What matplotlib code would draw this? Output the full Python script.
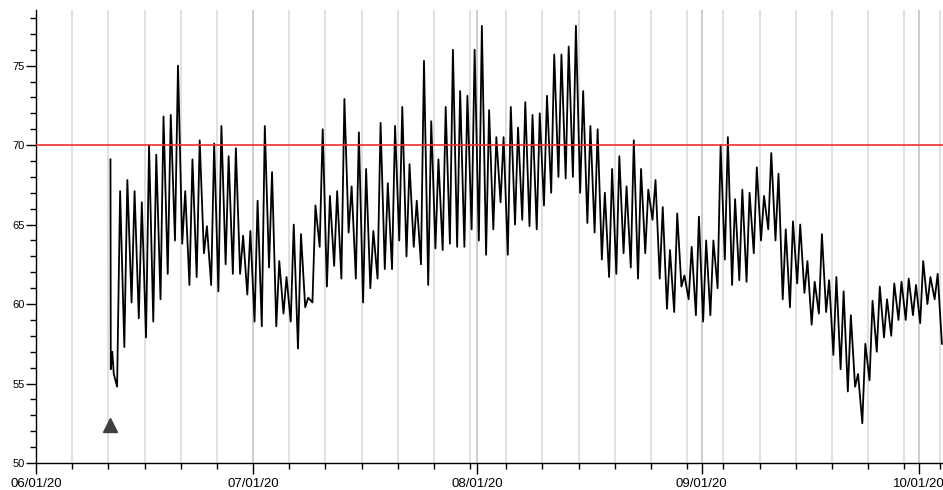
import pandas as pd
import matplotlib
matplotlib.use("Agg")
from matplotlib import pyplot as plt
import matplotlib.dates as mdates
from matplotlib.ticker import MultipleLocator

# first readings after the logger came online on 06/11
start_times = ["2020-06-11 07:00", "2020-06-11 08:00", "2020-06-11 13:00", "2020-06-11 18:00"]
start_temps = [69.1, 55.9, 57.0, 55.6]

# early-morning lows, 06/12 through 10/04
daily_lows = [
    54.8, 57.3, 60.1, 59.1, 57.9, 58.9, 60.3, 61.9, 64.0, 63.8,
    61.2, 61.7, 63.2, 61.2, 60.8, 62.5, 61.9, 61.9, 60.6, 58.9,
    58.6, 62.3, 58.6, 59.4, 58.9, 57.2, 59.8, 60.1, 63.6, 61.1,
    62.4, 61.6, 64.5, 61.6, 60.1, 61.0, 61.6, 62.2, 62.2, 64.0,
    63.0, 63.6, 62.5, 61.2, 63.5, 63.4, 63.8, 63.6, 63.6, 64.7,
    64.0, 63.1, 64.7, 66.4, 63.1, 65.0, 65.3, 64.9, 64.7, 66.2,
    67.0, 68.0, 67.9, 68.0, 67.0, 65.1, 64.5, 62.8, 61.7, 61.9,
    63.2, 62.3, 61.6, 63.2, 65.3, 61.6, 59.7, 59.5, 61.1, 60.3,
    59.3, 58.9, 59.3, 61.0, 62.8, 61.2, 61.5, 61.4, 63.2, 64.0,
    64.7, 64.0, 60.3, 59.8, 61.3, 60.7, 58.7, 59.4, 59.5, 56.8,
    55.9, 54.5, 54.8, 52.5, 55.2, 57.0, 57.9, 58.0, 59.0, 59.0,
    59.3, 58.8, 60.0, 60.3, 57.5,
]

# afternoon highs, 06/12 through 10/03
daily_highs = [
    67.1, 67.8, 67.1, 66.4, 70.0, 69.4, 71.8, 71.9, 75.0, 67.1,
    69.1, 70.3, 64.9, 70.1, 71.2, 69.3, 69.8, 64.3, 64.6, 66.5,
    71.2, 68.3, 62.7, 61.7, 65.0, 64.4, 60.4, 66.2, 71.0, 66.8,
    67.1, 72.9, 67.4, 70.8, 68.5, 64.6, 71.4, 67.6, 71.2, 72.4,
    68.8, 66.5, 75.3, 71.5, 69.1, 72.4, 76.0, 73.4, 73.1, 76.0,
    77.5, 72.2, 70.5, 70.5, 72.4, 71.1, 72.7, 71.9, 72.0, 73.1,
    75.7, 75.7, 76.2, 77.5, 73.4, 71.2, 71.0, 67.0, 68.5, 69.3,
    67.4, 70.3, 68.5, 67.2, 67.8, 66.1, 63.4, 65.7, 61.8, 63.6,
    65.5, 64.0, 64.0, 70.0, 70.5, 66.6, 67.2, 67.0, 68.6, 66.8,
    69.5, 68.2, 64.7, 65.2, 65.0, 62.7, 61.4, 64.4, 61.5, 61.7,
    60.8, 59.3, 55.6, 57.5, 60.2, 61.1, 60.3, 61.3, 61.4, 61.6,
    61.2, 62.7, 61.7, 61.9,
]

limit = 70
event_time = "2020-06-11 05:30"
event_level = 52.4

# build the time series: low in the morning, high in the afternoon
days = pd.date_range("2020-06-12", periods=len(daily_lows), freq="D")
times = list(pd.to_datetime(start_times))
temps = list(start_temps)
for i, day in enumerate(days):
    times.append(day + pd.Timedelta(hours=5))
    temps.append(daily_lows[i])
    if i < len(daily_highs):
        times.append(day + pd.Timedelta(hours=15))
        temps.append(daily_highs[i])

plt.rcParams["font.family"] = ["Liberation Sans", "DejaVu Sans"]

fig = plt.figure(figsize=(9.43, 4.90), dpi=100)
ax = fig.add_axes([36 / 943, 27 / 490, 1 - 36 / 943, 453 / 490])

ax.plot(times, temps, color="black", lw=1.3, zorder=3)
ax.axhline(limit, color="#ee3030", lw=1.2, zorder=4)
ax.plot(pd.Timestamp(event_time), event_level, marker="^", ms=10,
        color="#404040", zorder=5)

ax.set_xlim(pd.Timestamp("2020-06-01"), pd.Timestamp("2020-10-04 08:40"))
ax.set_ylim(50, 78.5)

ax.xaxis.set_major_locator(mdates.MonthLocator())
ax.xaxis.set_major_formatter(mdates.DateFormatter("%m/%d/%y"))
five_days = pd.date_range("2020-06-01", "2020-10-05", freq="5D")
ax.xaxis.set_minor_locator(mdates.DateLocator())
ax.set_xticks(five_days, minor=True)
ax.yaxis.set_major_locator(MultipleLocator(5))
ax.yaxis.set_minor_locator(MultipleLocator(1))

ax.grid(True, which="major", axis="x", color="#c4c4c4", lw=1.2)
ax.grid(True, which="minor", axis="x", color="#dcdcdc", lw=1.2)
ax.set_axisbelow(True)

for side in ("top", "right"):
    ax.spines[side].set_visible(False)
ax.spines["left"].set_linewidth(1.0)
ax.spines["bottom"].set_linewidth(1.0)

ax.tick_params(axis="x", which="major", length=8, width=1, pad=3, labelsize=9.5)
ax.tick_params(axis="x", which="minor", length=4, width=1)
ax.tick_params(axis="y", which="major", length=7, width=1, pad=1, labelsize=8)
ax.tick_params(axis="y", which="minor", length=4, width=1)

fig.savefig("out.png", dpi=100)
